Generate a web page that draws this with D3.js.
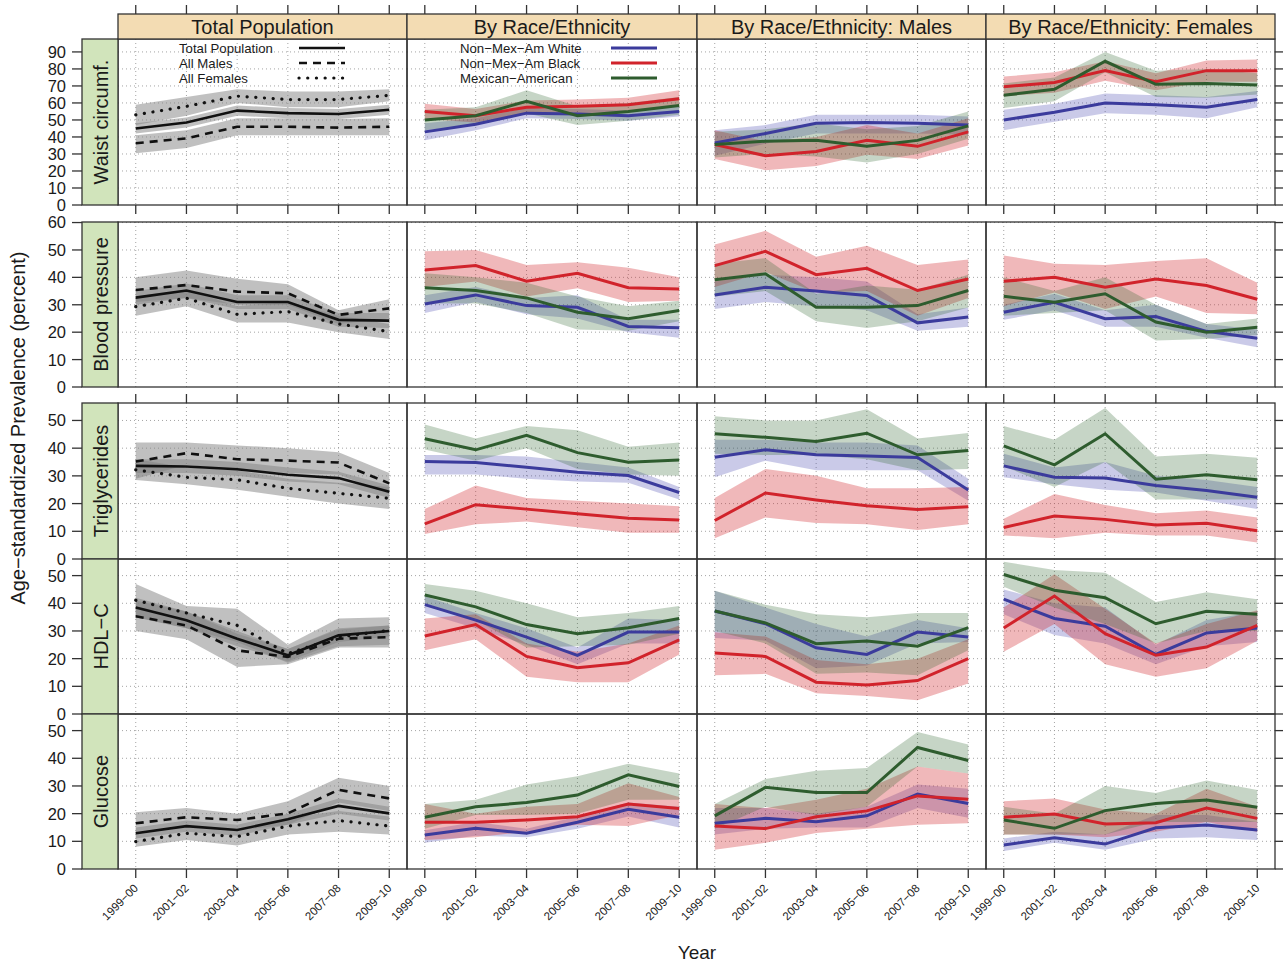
<!DOCTYPE html>
<html><head><meta charset="utf-8">
<script src="https://cdn.jsdelivr.net/npm/d3@7"></script>
<style>
body{margin:0;background:#fff}
svg{display:block}
text{font-family:"Liberation Sans",Arial,Helvetica,sans-serif;fill:#1a1a1a}
</style>
</head><body><svg id="c" width="1286" height="966"></svg>
<script>
// ---------------- DATA ----------------
const years = ["1999\u221200","2001\u221202","2003\u221204","2005\u221206","2007\u221208","2009\u221210"];
const rowLabels = ["Waist circumf.","Blood pressure","Triglycerides","HDL\u2212C","Glucose"];
const colLabels = ["Total Population","By Race/Ethnicity","By Race/Ethnicity: Males","By Race/Ethnicity: Females"];
const sexSeries = ["Total Population","All Males","All Females"];
const raceSeries = ["Non\u2212Mex\u2212Am White","Non\u2212Mex\u2212Am Black","Mexican\u2212American"];
const yTicksWaist = [0,10,20,30,40,50,60,70,80,90];
const yTicksBP = [0,10,20,30,40,50,60];
const yTicksOther = [0,10,20,30,40,50];

// each: [column][series][year]; col 0 series = Total, Males, Females; cols 1-3 = White, Black, Mexican-American
const waistMean = [
 [[45,48.5,55.5,54,53.5,56],[36.3,39.2,46,46,45.5,46],[53,58,64,62,62,64.5]],
 [[43,47.5,54,53.5,52.5,55],[55,52.5,57.5,58,59,62.5],[50,52.5,61,52.5,55,58.5]],
 [[36.5,42,48,48.5,48,47],[35.5,29,31.5,38,34.5,43],[35.5,37.5,38,34.5,38,46.5]],
 [[50,54.5,60,59,57.5,62],[69.5,72,79,72.5,79,79],[64.5,68,84.5,71,71.5,70.5]]
];
const waistLo = [
 [[42,45.5,52.5,51,50.5,53],[30.5,33.5,41,41,41,41],[47,52.5,60,57.5,57.5,61]],
 [[38,44,51,50.5,49.5,52],[50.5,48.5,53.5,54,54.5,58],[44,47,54,47,49.5,53]],
 [[29,36,42,42,42,41.5],[27,20.5,23,29.5,27,35],[28,30,28.5,25,30,39]],
 [[44,49,54,53,51,57.5],[64,66,73,67.5,72.5,72.5],[57,61,78,63.5,63,65]]
];
const waistHi = [
 [[48,51.5,58.5,57,56.5,59],[41,44,51,51,50.5,51],[59,63.5,68,66.7,66.7,68]],
 [[48,51,57,56.5,55.5,58],[59.5,56.5,61.5,62,63,67.5],[56,57.5,67.5,58,60,63.5]],
 [[44,47,53,53,53,52],[44,37.5,40,47,42,51],[43,44.5,48,44.5,46.5,55]],
 [[56,59.5,65.5,64.5,63.5,67],[75.5,78,84.5,77.5,85,85.5],[71.5,75,90,79,80,77.5]]
];
const bpMean = [
 [[32.6,35.2,31,31,24.5,24.2],[35.4,37.2,34.8,34.2,26.3,28.7],[29.3,32.4,26.5,27.5,23,20.2]],
 [[30.3,33.6,29.7,29.1,22.1,21.6],[42.7,44.3,38.6,41.5,36.2,35.8],[36.2,35.2,32.5,27.3,24.9,27.9]],
 [[33.6,36.4,35,33.4,23.4,25.5],[44.3,49.5,41,43.3,35.2,39.4],[39.1,41.3,29.1,29.1,29.7,35.2]],
 [[27.3,30.9,24.9,25.7,20.3,17.8],[38.6,40,36.4,39.4,37,32],[33.1,30.9,34,23.7,20,21.8]]
];
const bpLo = [
 [[30,32.5,28.5,28.5,22,21.5],[31,32.5,30,30,23,25],[26,29.5,23.5,23.5,20,17.5]],
 [[27,31,26.5,25,20,18],[36.5,38.5,33,36,31,31.5],[30.5,30.5,27,21,20.5,24]],
 [[28.5,31,29.5,28,20.5,22],[36.5,42,34.5,35,26,32.5],[33,35,24,21.5,24,29]],
 [[24.5,28,22,22,18,14.5],[29.5,34.5,28.5,33,27,26.5],[26,27,28,17,17.5,19]]
];
const bpHi = [
 [[35,37.8,33.5,33.5,27,27],[40,42.5,39.5,37.5,28,32],[33,35.5,29.5,31,26,23]],
 [[33.5,36.5,32.5,33.5,24.5,24.5],[49.5,50,44.5,45.5,43.5,40],[41.5,40,38,33,29.5,31.5]],
 [[38.5,41,40,38.5,26.5,29],[52,57,47.5,51.5,44.5,46.5],[45,47,34,37,35.5,41]],
 [[30,34,28,30,23,21],[48,45,44.5,46,47,38],[40,35,40,30,23,25]]
];
const trigMean = [
 [[33.6,33.4,32.4,30.4,29.2,24.3],[35.2,38.2,36,35.5,34.8,27.3],[32.2,29.5,28.6,25.5,23.7,21.9]],
 [[35.2,34.8,33.1,31.3,30.1,24],[12.7,19.6,18,16.3,14.7,14.1],[43.4,39.4,44.6,38.4,34.9,35.7]],
 [[36.7,39.4,37.6,37.2,36.6,24.9],[13.9,23.8,21.3,19.2,17.9,18.9],[45.2,43.9,42.4,45.4,37.6,39.2]],
 [[33.6,29.5,29.2,26.5,24.7,22.3],[11.4,15.5,14.3,12.3,12.9,10.2],[40.8,34,45.2,28.8,30.4,28.6]]
];
const trigLo = [
 [[31,31,30,28,27,22],[29,34,32,31,30.5,23.5],[28.5,27,25,22.5,20,18]],
 [[30.5,30.5,29,28,27.5,21.5],[9,12.5,13.5,11.5,9.5,9.5],[39.5,35.5,40,32.5,30.5,30]],
 [[29.5,35.5,32,32,32,21],[7.5,15,13,12.5,10.5,12.5],[38,37.5,37.5,36,32,32.5]],
 [[29.5,27,25,24,21,18],[8.5,7.5,9.5,8.5,8.5,6],[33.5,26,35,21.5,21.5,21.5]]
];
const trigHi = [
 [[36,36,35,33,31.5,26.5],[42,42,41,40,38.5,31],[36,33,32,29,27.5,26]],
 [[37.5,37.5,37,35,33,26],[18,26.5,22,21,20,19],[48.5,43.5,48,46.5,40.5,42]],
 [[43,43,42,42,41,29],[22,32.5,30,25.5,25.5,26],[51.5,50,50,54,43.5,45.5]],
 [[38,33,35,30,28.5,26],[14.5,23.5,19.5,16.5,17.5,15],[48,43,54.5,37,38,36.5]]
];
const hdlMean = [
 [[38.5,33.9,27.2,21.2,28.4,30],[35.3,32,23,20.6,27.2,27.8],[41.1,36.5,32,21.8,27.8,30.2]],
 [[39.5,33.9,27.8,21.2,29.6,29.6],[28.2,32.3,20.8,16.7,18.5,26.8],[43,38.7,32.3,29,31.2,34.5]],
 [[37.2,32.6,23.9,21.5,29.6,27.8],[22,20.8,11.5,10.5,12.1,20],[37.2,32.9,25.4,26.4,24.5,31.2]],
 [[41.5,34.5,31.7,21.5,29.3,31.1],[31.1,42.6,29,21.2,24.2,32],[50.4,44.7,42,32.6,37.1,36]]
];
const hdlLo = [
 [[35,31,24.5,19,26,28],[30,27,17,18,24,24],[35,31,26,18.5,24.5,25]],
 [[36.5,31,25,18,25.5,25.5],[23,27,13.5,11.5,11.5,21.5],[40,34,24,24.5,25,29]],
 [[27.5,26.5,16.5,17.5,25.5,26],[14,14.5,7.5,6.5,5,11],[30,25.5,14.5,15,14,23]],
 [[36,28.5,25.5,18,24.5,26],[22.5,32.5,18,13.5,16.5,26.5],[46,38.5,32.5,25.5,30,30]]
];
const hdlHi = [
 [[42,37,30,23.5,31,32],[41,37,29,23.5,30.5,32],[47,39,38,25,34.5,35]],
 [[42.5,36.5,31,24,34.5,34],[34.5,36,25.5,22.5,25.5,32],[47,44.5,40,35,36.5,39]],
 [[44.5,38.5,32.5,28,34,31],[29.5,28,19.5,18,20,27],[44.5,39.5,36,35,36.5,36.5]],
 [[45,40,38.5,25,34,37],[38.5,50.5,38,25.5,32.5,37.5],[55,52,51,40.5,44,41.5]]
];
const gluMean = [
 [[12.9,15.5,14.1,18,22.8,20.1],[16.5,18.7,17.7,20.1,28.6,25.5],[9.9,12.9,11.7,15.5,17.5,15.5]],
 [[12.3,14.7,12.9,16.9,21.6,18.7],[16.9,16.9,17.7,18.9,23.5,21.9],[18.7,22.5,24,26.7,34,29.8]],
 [[16.5,18.3,17.1,19.2,27.1,23.7],[15.5,14.6,18.9,21,26.4,25.2],[19.2,29.5,27.6,27.6,43.9,39.2]],
 [[8.7,11.3,9,14.9,15.9,14.1],[18.7,19.9,16.3,16.7,22,18.3],[17.7,14.7,21.1,23.7,24.9,22.3]]
];
const gluLo = [
 [[11,13.5,12,16,20,17.5],[12.5,15,14,16,24,21],[8,10.5,8.5,12.5,13.5,12.5]],
 [[9.5,12,11.5,14.5,19,15],[10.5,11.5,13.5,16,15.5,19.5],[14.5,19.5,19.5,20,25,25]],
 [[12.5,14.5,15,15,22,18.5],[7,9.5,13,14.5,16,16.5],[14.5,22.5,19.5,22.5,37,34.5]],
 [[6.5,9.5,7,11,11.5,10.5],[12.5,12.5,11.5,13.5,17,13.5],[12.5,12.5,12.5,17,17,17]]
];
const gluHi = [
 [[15,17.5,16,20,25.5,22.5],[20.5,22,20,24.5,33,30],[12.5,15,14,18.5,21,19]],
 [[14,17,14.5,19,24,22.5],[23.5,20,22.5,23.5,31,26],[23.5,25,30.5,33.5,38,34.5]],
 [[22,22,20,22.5,30.5,29],[23.5,22,25,29,37,34.5],[23.5,32.5,35.5,36.5,49.5,45]],
 [[11,13.5,12.5,19.5,19.5,17],[24.5,25.5,21.5,20,29,22.5],[22.5,20,30,27.5,32,28.5]]
];

// ---------------- LAYOUT ----------------
const measures = [
  {mean:waistMean, lo:waistLo, hi:waistHi, ticks:yTicksWaist},
  {mean:bpMean, lo:bpLo, hi:bpHi, ticks:yTicksBP},
  {mean:trigMean, lo:trigLo, hi:trigHi, ticks:yTicksOther},
  {mean:hdlMean, lo:hdlLo, hi:hdlHi, ticks:yTicksOther},
  {mean:gluMean, lo:gluLo, hi:gluHi, ticks:yTicksOther}
];
const colEdges = [118, 407, 697, 986, 1275];
const rowGeom = [
  {top:39, bottom:205, max:97.6},
  {top:222, bottom:387, max:60.2},
  {top:403, bottom:559, max:56.3},
  {top:559, bottom:714, max:56},
  {top:714, bottom:869, max:56}
];
const raceColors = ["#3b3b9c","#d1232b","#2e5c2e"];
const raceFill = ["rgba(60,60,170,0.27)","rgba(210,40,45,0.33)","rgba(46,100,46,0.27)"];
const grayFill = "rgba(130,130,130,0.5)";
const dashes = [null, "8,6", "0.1,8.6"];
const STRIP_TOP = "#F3DCB3", STRIP_LEFT = "#D1E4BB", BORDER = "#333";

const svg = d3.select("#c");
const xScales = colEdges.slice(0,4).map((x0,i)=>
  d3.scalePoint().domain(years).range([x0, colEdges[i+1]]).padding(0.35));
const yScales = rowGeom.map(r => d3.scaleLinear().domain([0, r.max]).range([r.bottom, r.top]));

const gridG = svg.append("g");
const dataG = svg.append("g");
const frameG = svg.append("g");

measures.forEach((m, ri) => {
  const y = yScales[ri];
  const r = rowGeom[ri];
  for (let ci = 0; ci < 4; ci++) {
    const x = xScales[ci];
    const x0 = colEdges[ci], x1 = colEdges[ci+1];
    years.forEach(yr => {
      gridG.append("line").attr("x1", x(yr)).attr("x2", x(yr)).attr("y1", r.top).attr("y2", r.bottom)
        .attr("stroke","#9a9a9a").attr("stroke-width",0.9).attr("stroke-dasharray","1,3");
    });
    m.ticks.forEach(t => {
      if (t === 0) return;
      gridG.append("line").attr("x1", x0).attr("x2", x1).attr("y1", y(t)).attr("y2", y(t))
        .attr("stroke","#9a9a9a").attr("stroke-width",0.9).attr("stroke-dasharray","1,3");
    });
    const area = d3.area().x((d,i)=>x(years[i])).y0(d=>y(d[0])).y1(d=>y(d[1]));
    const line = d3.line().x((d,i)=>x(years[i])).y(d=>y(d));
    const g = dataG.append("g");
    for (let s = 0; s < 3; s++) {
      const band = m.lo[ci][s].map((lo,i)=>[lo, m.hi[ci][s][i]]);
      g.append("path").attr("d", area(band))
        .attr("fill", ci === 0 ? grayFill : raceFill[s]).attr("stroke","none");
    }
    for (let s = 0; s < 3; s++) {
      const p = g.append("path").attr("d", line(m.mean[ci][s])).attr("fill","none");
      if (ci === 0) {
        p.attr("stroke","#111").attr("stroke-width", s===2 ? 3.2 : 2.6);
        if (dashes[s]) p.attr("stroke-dasharray", dashes[s]);
        if (s===2) p.attr("stroke-linecap","round");
      } else {
        p.attr("stroke", raceColors[s]).attr("stroke-width", 3);
      }
    }
    frameG.append("rect").attr("x", x0).attr("y", r.top).attr("width", x1-x0).attr("height", r.bottom-r.top)
      .attr("fill","none").attr("stroke",BORDER).attr("stroke-width",1.3);
  }
  frameG.append("rect").attr("x", 82).attr("y", r.top).attr("width", 36).attr("height", r.bottom - r.top)
    .attr("fill", STRIP_LEFT).attr("stroke", BORDER).attr("stroke-width",1.3);
  frameG.append("text").attr("transform", `translate(107.5,${(r.top+r.bottom)/2}) rotate(-90)`)
    .attr("text-anchor","middle").attr("font-size",20).text(rowLabels[ri]);
  m.ticks.forEach(t => {
    frameG.append("line").attr("x1",72).attr("x2",82).attr("y1",y(t)).attr("y2",y(t))
      .attr("stroke",BORDER).attr("stroke-width",1.3);
    frameG.append("text").attr("x",66).attr("y",y(t)).attr("dy","0.36em").attr("text-anchor","end")
      .attr("font-size",16.5).text(t);
    frameG.append("line").attr("x1",1275).attr("x2",1283).attr("y1",y(t)).attr("y2",y(t))
      .attr("stroke",BORDER).attr("stroke-width",1.3);
  });
});

colLabels.forEach((lab, ci) => {
  const x0 = colEdges[ci], x1 = colEdges[ci+1];
  frameG.append("rect").attr("x", x0).attr("y", 14).attr("width", x1-x0).attr("height", 25)
    .attr("fill", STRIP_TOP).attr("stroke", BORDER).attr("stroke-width",1.3);
  frameG.append("text").attr("x",(x0+x1)/2).attr("y",34).attr("text-anchor","middle")
    .attr("font-size",20).text(lab);
  const x = xScales[ci];
  years.forEach(yr => {
    const xx = x(yr);
    frameG.append("line").attr("x1",xx).attr("x2",xx).attr("y1",5).attr("y2",14).attr("stroke",BORDER).attr("stroke-width",1.3);
    frameG.append("line").attr("x1",xx).attr("x2",xx).attr("y1",205).attr("y2",214).attr("stroke",BORDER).attr("stroke-width",1.3);
    frameG.append("line").attr("x1",xx).attr("x2",xx).attr("y1",394).attr("y2",403).attr("stroke",BORDER).attr("stroke-width",1.3);
    frameG.append("line").attr("x1",xx).attr("x2",xx).attr("y1",869).attr("y2",878).attr("stroke",BORDER).attr("stroke-width",1.3);
    frameG.append("text").attr("transform",`translate(${xx+3},889) rotate(-45)`)
      .attr("text-anchor","end").attr("font-size",11.5).text(yr);
  });
});

const leg1 = frameG.append("g");
sexSeries.forEach((s,i) => {
  const yy = 48 + i*15;
  leg1.append("text").attr("x",179).attr("y",yy+4.5).attr("font-size",13.2).text(s);
  const l = leg1.append("line").attr("x1",299).attr("x2",345).attr("y1",yy).attr("y2",yy)
    .attr("stroke","#111").attr("stroke-width", i===2?3.2:2.6);
  if (dashes[i]) l.attr("stroke-dasharray", dashes[i]);
  if (i===2) l.attr("stroke-linecap","round");
});
raceSeries.forEach((s,i) => {
  const yy = 48 + i*15;
  leg1.append("text").attr("x",460).attr("y",yy+4.5).attr("font-size",13.2).text(s);
  leg1.append("line").attr("x1",611).attr("x2",657).attr("y1",yy).attr("y2",yy)
    .attr("stroke",raceColors[i]).attr("stroke-width",3);
});

svg.append("text").attr("transform","translate(25,428) rotate(-90)").attr("text-anchor","middle")
  .attr("font-size",20).text("Age\u2212standardized Prevalence (percent)");
svg.append("text").attr("x",697).attr("y",959).attr("text-anchor","middle").attr("font-size",19).text("Year");
</script>
</body></html>
